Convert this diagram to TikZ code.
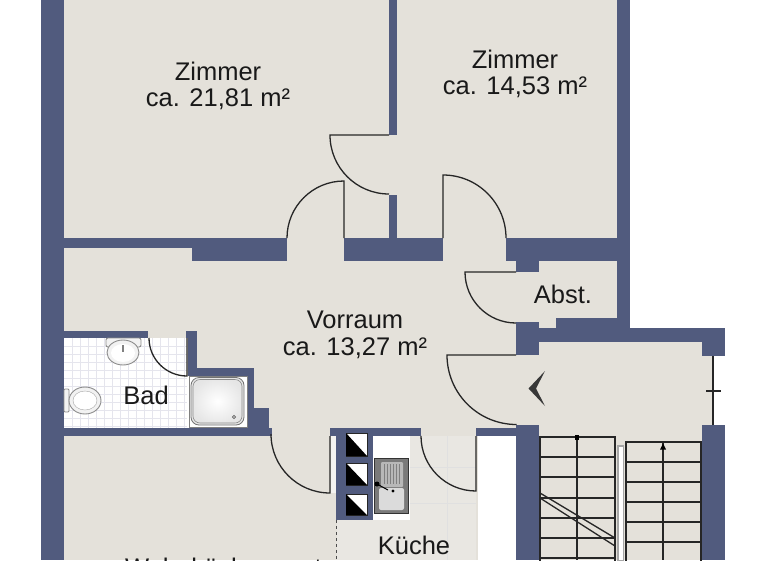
\documentclass[tikz,border=0pt]{standalone}
\usepackage{fontspec}
\setmainfont{Liberation Sans}
\definecolor{wallblue}{HTML}{515B7E}
\definecolor{floorbeige}{HTML}{E4E1DA}
\definecolor{tilegrey}{HTML}{E9E7E2}
\tikzset{
	doorline/.style={draw=black!85,line width=1.3pt},
	stairline/.style={draw=black!85,line width=1.3pt},
	roomlabel/.style={font=\fontsize{25.5}{26.5}\selectfont,align=center,text=black!90,inner sep=0pt},
	fixture/.style={draw=black!45,fill=black!5,line width=0.9pt},
	fluebox/.style={draw=black!85,fill=white,line width=0.8pt},
	tileline/.style={draw=blue!30!black!10,line width=0.5pt}
}
\begin{document}
\begin{tikzpicture}[x=1pt,y=-1pt]
	\useasboundingbox (0,0) rectangle (768,560);
	\clip (0,0) rectangle (768,560);
	\fill[white] (0,0) rectangle (768,560);
	\fill[floorbeige] (41,0) rectangle (617,560);
	\fill[floorbeige] (539,341) rectangle (712,560);
	\fill[white] (478,436) rectangle (516,560);
	\fill[tilegrey] (337,436) rectangle (476,560);
	\draw[black!12,line width=0.7pt] (410,467) -- (476,467);
	\draw[black!12,line width=0.7pt] (410,503) -- (476,503);
	\draw[black!12,line width=0.7pt] (447,436) -- (447,560);
	\fill[white!60!floorbeige] (331,436) rectangle (336,493);
	\fill[white] (373,436) rectangle (410,520);
	\fill[white] (64,338) rectangle (187,428);
	\fill[white] (187,376) rectangle (247,428);
	\foreach \i in {72,80,...,184}
		\draw[tileline] (\i,338) -- (\i,428);
	\foreach \j in {346,354,...,426}
		\draw[tileline] (64,\j) -- (187,\j);
	\fill[wallblue] (41,0) rectangle (64,560);
	\fill[wallblue] (617,0) rectangle (630,341);
	\fill[wallblue] (389,0) rectangle (397,135);
	\fill[wallblue] (389,195) rectangle (397,238);
	\fill[wallblue] (64,238) rectangle (192,248);
	\fill[wallblue] (192,238) rectangle (287,261);
	\fill[wallblue] (344,238) rectangle (443,261);
	\fill[wallblue] (506,238) rectangle (630,261);
	\fill[wallblue] (516,261) rectangle (539,272);
	\fill[wallblue] (556,318) rectangle (630,341);
	\fill[wallblue] (516,322) rectangle (539,355);
	\fill[wallblue] (539,328) rectangle (725,342);
	\fill[wallblue] (702,328) rectangle (725,356);
	\fill[wallblue] (702,425) rectangle (725,560);
	\fill[wallblue] (516,425) rectangle (539,560);
	\fill[wallblue] (476,428) rectangle (516,436);
	\fill[wallblue] (330,428) rectangle (421,436);
	\fill[wallblue] (336,436) rectangle (373,520);
	\fill[wallblue] (64,331) rectangle (148,338);
	\fill[wallblue] (186,331) rectangle (197,338);
	\fill[wallblue] (188,338) rectangle (197,374);
	\fill[wallblue] (188,368) rectangle (254,376);
	\fill[wallblue] (247,368) rectangle (254,408);
	\fill[wallblue] (247,408) rectangle (269,436);
	\fill[wallblue] (64,428) rectangle (272,436);
	\draw[doorline] (344,238) -- (344,181) arc[start angle=270,end angle=180,radius=57];
	\draw[doorline] (443,238) -- (443,175) arc[start angle=270,end angle=360,radius=63];
	\draw[doorline] (389,135) -- (330,135) arc[start angle=180,end angle=90,radius=59];
	\draw[doorline] (516,272) -- (465,272) arc[start angle=180,end angle=90,radius=51];
	\draw[doorline] (516,355) -- (447,355) arc[start angle=180,end angle=90,radius=69.5];
	\draw[doorline] (330,436) -- (330,493) arc[start angle=90,end angle=180,radius=59];
	\draw[doorline] (476,436) -- (476,491) arc[start angle=90,end angle=180,radius=55];
	\draw[doorline] (187,338) -- (187,376) arc[start angle=90,end angle=180,radius=38];
	\draw[doorline] (713,356) -- (713,425);
	\draw[doorline] (706,391) -- (721,391);
	\draw[black!70,line width=1pt,dashed] (336,520) -- (336,560);
	\draw[fixture,rounded corners=2pt] (106,338) rectangle (141,347);
	\draw[fixture] (123,352.5) ellipse[x radius=16,y radius=12.5];
	\fill[white] (123,353) ellipse[x radius=12,y radius=9];
	\draw[black!50,line width=1.2pt] (123,345) -- (123,352);
	\draw[fixture,rounded corners=1pt] (64,389) rectangle (69,412);
	\draw[fixture] (85,400.5) ellipse[x radius=16,y radius=13.5];
	\fill[white,draw=black!35] (85,400.5) ellipse[x radius=12,y radius=9.5];
	\draw[black!50,fill=white,line width=0.7pt] (189,376) rectangle (247,427.5);
	\shade[inner color=white,outer color=black!10,rounded corners=8pt] (191,377.5) rectangle (244,425);
	\draw[black!55,line width=0.8pt,rounded corners=8pt] (191,377.5) rectangle (244,425);
	\draw[black!45,line width=0.6pt,rounded corners=7pt] (193,379.5) rectangle (242,423);
	\draw[black!60,fill=black!30,line width=0.5pt] (234,417) circle[radius=1.7];
	\draw[fluebox] (346,433) rectangle (367,456);
	\fill[black] (346,433) -- (346,456) -- (367,456) -- cycle;
	\draw[fluebox] (346,463) rectangle (367,485);
	\fill[black] (346,463) -- (346,485) -- (367,485) -- cycle;
	\draw[fluebox] (346,494) rectangle (367,515);
	\fill[black] (346,494) -- (346,515) -- (367,515) -- cycle;
	\draw[black!80,fill=black!52,line width=0.8pt] (374,458) rectangle (408.5,513.5);
	\fill[black!28,rounded corners=1pt] (381,462) rectangle (403,487);
	\foreach \i in {384,387,...,400}
		\draw[black!50,line width=0.7pt] (\i,464) -- (\i,484);
	\fill[black!14,rounded corners=2pt] (379,488) rectangle (404,510);
	\draw[black,line width=1pt] (377,484) -- (388,490);
	\fill[black] (377,484) circle[radius=2.5];
	\fill[black] (393,491) circle[radius=1.6];
	\draw[black!35,fill=white,line width=1.5pt] (618,446) rectangle (623.5,561);
	\draw[stairline] (540,437) rectangle (615,570);
	\draw[stairline] (540,457) -- (615,457);
	\draw[stairline] (540,477) -- (615,477);
	\draw[stairline] (540,498) -- (615,498);
	\draw[stairline] (540,518) -- (615,518);
	\draw[stairline] (540,538) -- (615,538);
	\draw[stairline] (540,558) -- (615,558);
	\draw[stairline] (577,437) -- (577,560);
	\fill[black] (575,435) rectangle (579,439.5);
	\draw[stairline] (540,493) -- (615,538);
	\draw[stairline] (540,498) -- (615,546);
	\draw[stairline] (626,442) rectangle (701,570);
	\draw[stairline] (626,462) -- (701,462);
	\draw[stairline] (626,482) -- (701,482);
	\draw[stairline] (626,502) -- (701,502);
	\draw[stairline] (626,522) -- (701,522);
	\draw[stairline] (626,542) -- (701,542);
	\draw[stairline] (663,442) -- (663,560);
	\fill[black] (663,443.5) -- (660,449.5) -- (666,449.5) -- cycle;
	\fill[black!78] (528.5,388.5) -- (545,371) -- (536,388.5) -- (545,406) -- cycle;
	\node[roomlabel] (zimmerleft) at (218,86) {Zimmer\\ca. 21,81 m²};
	\node[roomlabel] (zimmerright) at (515,74) {Zimmer\\ca. 14,53 m²};
	\node[roomlabel] (vorraum) at (355,335) {Vorraum\\ca. 13,27 m²};
	\node[roomlabel] (bad) at (146,395) {Bad};
	\node[roomlabel] (abst) at (563,294) {Abst.};
	\node[roomlabel] (kueche) at (414,545) {Küche};
	\node[roomlabel,anchor=base west] (wohnkueche) at (125,576) {Wohnküche samt};
\end{tikzpicture}
\end{document}
